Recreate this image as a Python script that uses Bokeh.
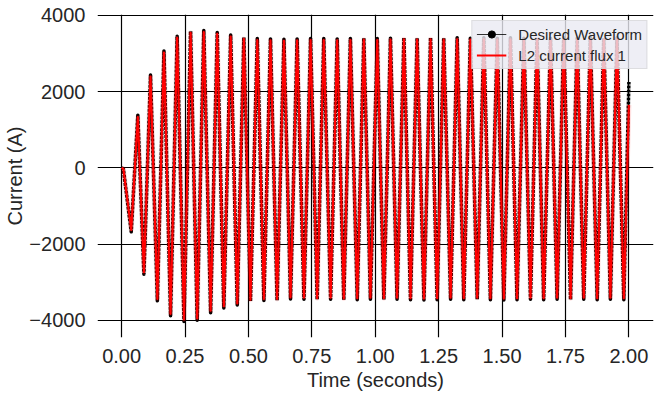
from bokeh.plotting import figure
from bokeh.models import Range1d, FixedTicker, Legend, LegendItem, CustomJSTickFormatter
from bokeh.embed import file_html
from bokeh.resources import INLINE

# ---- data (extrema of the oscillation) ----
time_s = [0.000, 0.007, 0.038, 0.064,
          0.088, 0.114, 0.141, 0.167, 0.193, 0.219, 0.246, 0.272, 0.298, 0.324,
          0.351, 0.377, 0.403, 0.430, 0.456, 0.482, 0.508, 0.535, 0.561, 0.587,
          0.613, 0.640, 0.666, 0.692, 0.719, 0.745, 0.771, 0.797, 0.824, 0.850,
          0.876, 0.902, 0.929, 0.955, 0.981, 1.008, 1.034, 1.060, 1.086, 1.113,
          1.139, 1.165, 1.192, 1.218, 1.244, 1.270, 1.297, 1.323, 1.349, 1.375,
          1.402, 1.428, 1.454, 1.481, 1.507, 1.533, 1.559, 1.586, 1.612, 1.638,
          1.664, 1.691, 1.717, 1.743, 1.770, 1.796, 1.822, 1.848, 1.875, 1.901,
          1.927, 1.953, 1.980, 2.000]

desired_A = [0, -30, -1680, 1380,
             -2790, 2430, -3490, 3060, -3880, 3450, -4030, 3580, -4000, 3600,
             -3800, 3550, -3680, 3480, -3600, 3420, -3500, 3390, -3480, 3380,
             -3480, 3370, -3440, 3380, -3450, 3390, -3460, 3390, -3450, 3380,
             -3470, 3390, -3460, 3400, -3450, 3390, -3460, 3400, -3450, 3410,
             -3460, 3400, -3470, 3410, -3460, 3400, -3450, 3410, -3460, 3400,
             -3450, 3410, -3460, 3400, -3470, 3410, -3460, 3400, -3450, 3410,
             -3460, 3400, -3450, 3410, -3460, 3400, -3450, 3410, -3460, 3400,
             -3450, 3410, -3460, 2250]

flux_A = [0, -30, -1630, 1330,
          -2740, 2390, -3440, 3020, -3830, 3410, -3980, 3540, -3950, 3560,
          -3750, 3510, -3630, 3440, -3560, 3380, -3460, 3350, -3440, 3340,
          -3440, 3330, -3400, 3340, -3410, 3350, -3420, 3350, -3410, 3340,
          -3430, 3350, -3420, 3360, -3410, 3350, -3420, 3360, -3410, 3370,
          -3420, 3360, -3430, 3370, -3420, 3360, -3410, 3370, -3420, 3360,
          -3410, 3370, -3420, 3360, -3430, 3370, -3420, 3360, -3410, 3370,
          -3420, 3360, -3410, 3370, -3420, 3360, -3410, 3370, -3420, 3360,
          -3410, 3370, -3420, 1650]

x_ticks = [0.0, 0.25, 0.5, 0.75, 1.0, 1.25, 1.5, 1.75, 2.0]
x_tick_labels = ["0.00", "0.25", "0.50", "0.75", "1.00", "1.25", "1.50", "1.75", "2.00"]
y_ticks = [-4000, -2000, 0, 2000, 4000]
y_tick_labels = ["\u22124000", "\u22122000", "0", "2000", "4000"]

FONT = "Liberation Sans"
TXT = "#262626"
NAN = float("nan")

p = figure(width=658, height=395, output_backend="svg", toolbar_location=None,
           x_range=Range1d(-0.095, 2.097), y_range=Range1d(-4452, 4020),
           min_border_left=97, min_border_right=5, min_border_top=14, min_border_bottom=58,
           x_axis_label="Time (seconds)", y_axis_label="Current (A)")
p.outline_line_color = None

fmt_code = "const i = tvals.findIndex(t => Math.abs(t - tick) < 1e-9); return i >= 0 ? tlabels[i] : '';"
p.xaxis.ticker = FixedTicker(ticks=x_ticks)
p.yaxis.ticker = FixedTicker(ticks=y_ticks)
p.xaxis.formatter = CustomJSTickFormatter(args=dict(tvals=x_ticks, tlabels=x_tick_labels), code=fmt_code)
p.yaxis.formatter = CustomJSTickFormatter(args=dict(tvals=y_ticks, tlabels=y_tick_labels), code=fmt_code)
p.xgrid.ticker = FixedTicker(ticks=x_ticks)
p.ygrid.ticker = FixedTicker(ticks=y_ticks)
for g in (p.xgrid, p.ygrid):
    g.grid_line_color = "black"
    g.grid_line_alpha = 1.0
    g.grid_line_width = 1.2

for ax in (p.xaxis, p.yaxis):
    ax.axis_line_color = None
    ax.major_tick_line_color = None
    ax.minor_tick_line_color = None
    ax.major_tick_out = 0
    ax.major_tick_in = 0
    ax.major_label_text_font = FONT
    ax.major_label_text_font_size = "20px"
    ax.major_label_text_color = TXT
    ax.axis_label_text_font = FONT
    ax.axis_label_text_font_size = "20px"
    ax.axis_label_text_font_style = "normal"
    ax.axis_label_text_color = TXT
    ax.axis_label_standoff = 0
p.xaxis.major_label_standoff = 11
p.xaxis.axis_label_standoff = 3
p.yaxis.major_label_standoff = 12

r_black = p.line(time_s, desired_A, line_color="black", line_width=3.5,
                 line_dash="3 1", line_join="round")
p.line(time_s, flux_A, line_color="red", line_width=5, line_alpha=0.12, line_join="round")
r_red = p.line(time_s, flux_A, line_color="red", line_width=2.2, line_join="round")

leg_line = p.line([NAN, NAN], [NAN, NAN], line_color="black", line_width=1, line_alpha=0.8)
leg_dot = p.scatter([NAN], [NAN], marker="circle", size=2, color="black")

legend = Legend(items=[LegendItem(label="Desired Waveform", renderers=[leg_line, leg_dot]),
                       LegendItem(label="L2 current flux 1", renderers=[r_red])],
                location="top_right")
legend.background_fill_color = "#eaeaf2"
legend.background_fill_alpha = 0.8
legend.border_line_color = "#cccccc"
legend.border_line_width = 1
legend.label_text_font = FONT
legend.label_text_font_size = "15px"
legend.label_text_color = TXT
legend.padding = 4
legend.spacing = 3
legend.glyph_width = 30
legend.glyph_height = 18
legend.label_height = 18
legend.label_standoff = 12
legend.margin = 6
p.add_layout(legend)

open("out.html", "w").write(file_html(p, INLINE))
